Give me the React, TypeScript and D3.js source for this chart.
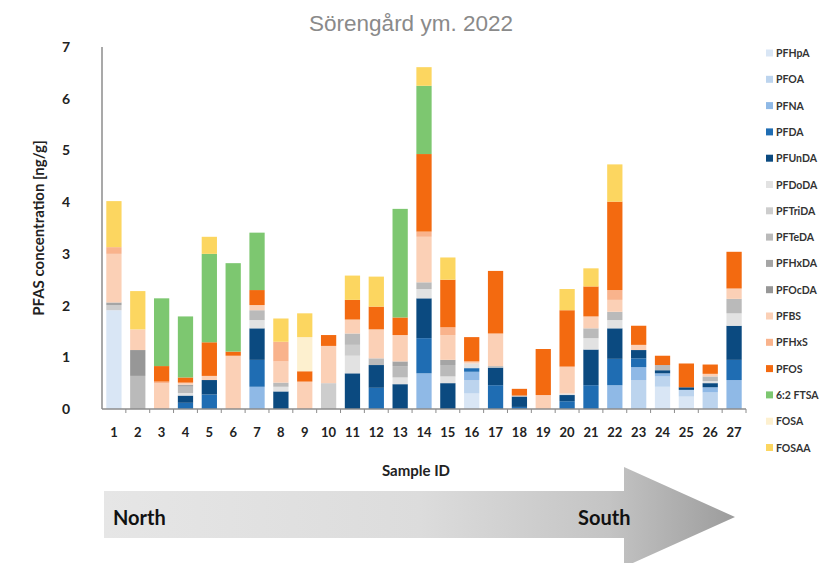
import React from "react";
import * as d3 from "d3";

const samples = ["1","2","3","4","5","6","7","8","9","10","11","12","13","14","15","16","17","18","19","20","21","22","23","24","25","26","27"];
const compounds = ["PFHpA","PFOA","PFNA","PFDA","PFUnDA","PFDoDA","PFTriDA","PFTeDA","PFHxDA","PFOcDA","PFBS","PFHxS","PFOS","6:2 FTSA","FOSA","FOSAA"];
const colors = ["#d9e6f5","#bcd4ee","#8fb9e6","#1f6db3","#0b4a80","#e2e2e2","#cdcdcd","#bababa","#a5a5a5","#979797","#fbd0b6","#f9b38c","#f36a10","#7dc770","#fdf0cf","#fcd660"];

const PFHpA   = [1.91,0,0,0,0,0,0,0,0,0,0,0,0,0,0,0.30,0,0,0,0,0,0,0,0.43,0.24,0,0];
const PFOA    = [0,0,0,0,0,0,0,0,0,0,0,0,0,0,0,0.26,0,0,0,0,0,0,0.56,0.20,0.13,0.32,0];
const PFNA    = [0,0,0,0,0,0,0.43,0,0,0,0,0,0,0.69,0,0.16,0,0,0,0,0,0.46,0.25,0.06,0,0.10,0.56];
const PFDA    = [0,0,0,0.12,0.28,0,0.52,0,0,0,0,0.41,0,0.68,0,0.07,0.46,0.04,0,0.15,0.46,0.51,0.17,0,0,0,0.39];
const PFUnDA  = [0,0,0,0.14,0.28,0,0.61,0.34,0,0,0.69,0.44,0.48,0.77,0.50,0,0.34,0.20,0,0.12,0.69,0.59,0.16,0.06,0.05,0.08,0.66];
const PFDoDA  = [0,0,0,0.05,0,0,0.16,0.09,0,0,0.34,0,0.13,0.18,0.13,0.09,0,0,0,0.03,0.22,0.16,0,0,0,0.04,0.24];
const PFTriDA = [0.10,0,0,0,0,0,0,0,0,0.50,0.21,0,0,0,0,0,0,0,0,0,0,0,0,0,0,0,0];
const PFTeDA  = [0,0.64,0,0.12,0,0,0.19,0.08,0,0,0.22,0.13,0.22,0.13,0.22,0,0.03,0.02,0,0,0.19,0.16,0,0.10,0,0.09,0.28];
const PFHxDA  = [0.05,0,0,0.04,0,0,0,0,0,0,0,0,0.09,0,0.10,0,0,0,0,0,0,0,0,0,0,0,0];
const PFOcDA  = [0,0.50,0,0,0,0,0,0,0,0,0,0,0,0,0,0,0,0,0,0,0,0,0,0,0,0,0];
const PFBS    = [0.94,0.40,0.50,0.04,0.08,1.03,0.10,0.41,0.53,0.72,0.27,0.56,0.51,0.88,0.48,0.04,0.63,0,0.27,0.52,0.23,0.23,0.10,0,0,0.05,0.20];
const PFHxS   = [0.13,0,0.03,0,0,0,0,0.38,0,0,0,0,0,0.10,0.15,0,0,0,0,0,0,0.19,0,0,0,0,0];
const PFOS    = [0,0,0.30,0.10,0.65,0.08,0.29,0,0.20,0.21,0.38,0.44,0.34,1.50,0.92,0.47,1.21,0.13,0.89,1.09,0.58,1.71,0.37,0.18,0.46,0.18,0.71];
const FTSA    = [0,0,1.31,1.18,1.71,1.71,1.11,0,0,0,0,0,2.10,1.32,0,0,0,0,0,0,0,0,0,0,0,0,0];
const FOSA    = [0,0,0,0,0,0,0,0,0.66,0,0,0,0,0,0,0,0,0,0,0,0,0,0,0,0,0,0];
const FOSAA   = [0.89,0.74,0,0,0.33,0,0,0.45,0.46,0,0.47,0.58,0,0.36,0.43,0,0,0,0,0.41,0.35,0.72,0,0,0,0,0];
const yTicks = [0,1,2,3,4,5,6,7];

const seriesValues = [PFHpA,PFOA,PFNA,PFDA,PFUnDA,PFDoDA,PFTriDA,PFTeDA,PFHxDA,PFOcDA,PFBS,PFHxS,PFOS,FTSA,FOSA,FOSAA];

const W = 825, H = 563;
const left = 102, right = 746, top = 47, bottom = 409;
const FONT = "Lato, 'Open Sans', sans-serif";

export default function App() {
  const rows = samples.map((s, i) => {
    const r: any = { sample: s };
    compounds.forEach((c, k) => { r[c] = seriesValues[k][i]; });
    return r;
  });
  const stack = d3.stack<any>().keys(compounds)(rows);
  const x = d3.scaleBand<string>().domain(samples).range([left, right]).paddingInner(0.36).paddingOuter(0.18);
  const xb = d3.scaleBand<string>().domain(samples).range([left, right]);
  const y = d3.scaleLinear().domain([0, 7]).range([bottom, top]);

  return (
    <svg width={W} height={H} style={{ position: "absolute", left: 0, top: 0, background: "#fff" }} fontFamily={FONT}>
      <defs>
        <linearGradient id="arrowGrad" x1="104" x2="735" y1="0" y2="0" gradientUnits="userSpaceOnUse">
          <stop offset="0" stopColor="#e6e6e6" />
          <stop offset="0.5" stopColor="#dcdcdc" />
          <stop offset="0.8" stopColor="#c4c4c4" />
          <stop offset="1" stopColor="#9c9c9c" />
        </linearGradient>
      </defs>
      <text x={411} y={31} textAnchor="middle" fontSize={22.5} fill="#8a8a8a" fontFamily="'Liberation Sans', Arial, sans-serif">Sörengård ym. 2022</text>

      {stack.map((layer, k) => (
        <g key={compounds[k]} fill={colors[k]}>
          {layer.map((d, i) => d[1] - d[0] > 0 ? (
            <rect key={i} x={x(samples[i])} width={x.bandwidth()} y={y(d[1])} height={y(d[0]) - y(d[1])} />
          ) : null)}
        </g>
      ))}

      <line x1={left} x2={left} y1={top} y2={bottom} stroke="#8c8c8c" strokeWidth={1.5} />
      <line x1={left} x2={right} y1={bottom} y2={bottom} stroke="#8c8c8c" strokeWidth={1.5} />
      {samples.map((s) => (
        <line key={s} x1={(xb(s) as number) + xb.bandwidth()} x2={(xb(s) as number) + xb.bandwidth()} y1={bottom} y2={bottom + 4} stroke="#8c8c8c" strokeWidth={1} />
      ))}
      {samples.map((s) => (
        <text key={s} x={(xb(s) as number) + xb.bandwidth() / 2} y={437} textAnchor="middle" fontSize={13} fontWeight={700} fill="#222">{s}</text>
      ))}
      {yTicks.map((t) => (
        <text key={t} x={66} y={y(t) + 5} textAnchor="middle" fontSize={14} fontWeight={700} fill="#222">{t}</text>
      ))}
      <text transform="translate(44,228) rotate(-90)" textAnchor="middle" fontSize={15} fontWeight={700} fill="#222">PFAS concentration [ng/g]</text>
      <text x={416} y={476} textAnchor="middle" fontSize={15} fontWeight={700} fill="#222">Sample ID</text>

      <polygon points="104,491 624,491 624,467 735,517 624,567 624,538 104,538" fill="url(#arrowGrad)" />
      <text x={113} y={525} fontSize={20} fontWeight={700} fill="#111">North</text>
      <text x={578} y={525} fontSize={20} fontWeight={700} fill="#111">South</text>

      {compounds.map((c, k) => (
        <g key={c} transform={`translate(766,${53 + k * 26.3})`}>
          <rect x={0} y={-3.5} width={7} height={7} fill={colors[k]} />
          <text x={10} y={4} fontSize={10.5} fontWeight={700} fill="#333">{c}</text>
        </g>
      ))}
    </svg>
  );
}
